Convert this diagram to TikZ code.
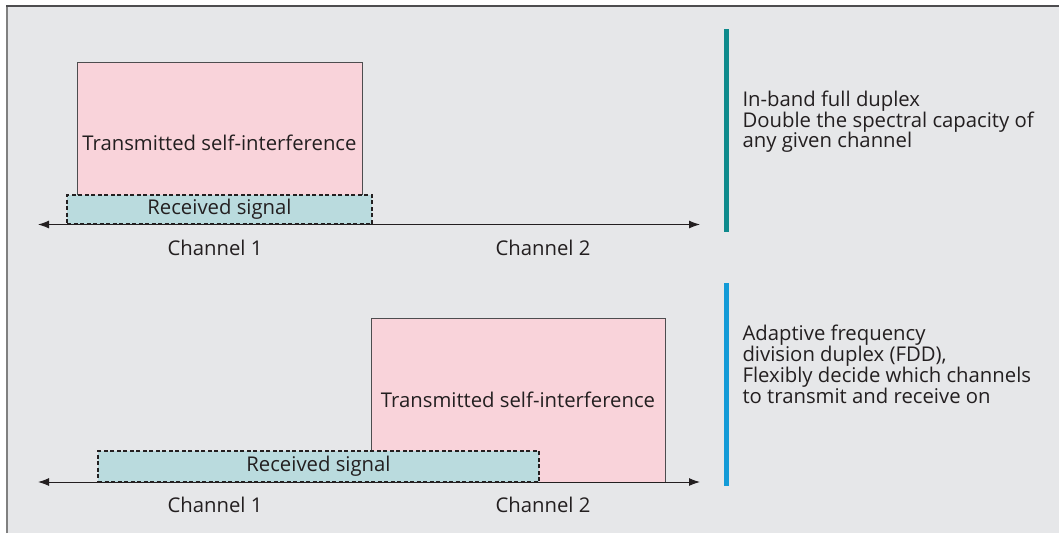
\documentclass[tikz,border=0pt]{standalone}
\usepackage{fontspec}
\setmainfont{Open Sans}
\usetikzlibrary{arrows.meta}
\definecolor{panelbg}{HTML}{E6E7E9}
\definecolor{txpink}{HTML}{F9D3DA}
\definecolor{rxteal}{HTML}{BADBDE}
\definecolor{inkgray}{HTML}{231F20}
\definecolor{edgegray}{HTML}{4D4D4F}
\definecolor{barteal}{HTML}{0E8A8C}
\definecolor{barblue}{HTML}{139BD7}

\begin{document}
\begin{tikzpicture}[x=1pt, y=-1pt, >={Latex[length=11pt, width=8pt]},
	font=\fontsize{20.3}{20.5}\selectfont, text=inkgray,
	txbox/.style={draw=edgegray, fill=txpink, line width=0.9pt, inner sep=0pt},
	rxbox/.style={draw=inkgray, fill=rxteal, line width=2pt, dash pattern=on 4pt off 2.5pt, inner sep=0pt},
	axis/.style={draw=inkgray, line width=1pt, <->},
	bar/.style={line width=5pt}]
	\useasboundingbox (0, 0) rectangle (1059, 533);
	% panel
	\fill[panelbg] (7, 6) rectangle (1059, 533);
	\draw[gray, line width=1.2pt] (7, 533) -- (7, 6);
	\draw[edgegray, line width=1.5pt] (6.4, 6) -- (1059, 6);

	% in-band full duplex
	\node[txbox, minimum width=285pt, minimum height=162pt] (txtop) at (219.5, 143) {Transmitted self-interference};
	\node[rxbox, minimum width=305pt, minimum height=29pt] (rxtop) at (219.5, 209.5) {Received signal};
	\coordinate (axtopl) at (38, 224.5);
	\coordinate (axtopr) at (700, 224.5);
	\draw[axis] (axtopl) -- (axtopr);
	\node (chtopa) at (215, 248) {Channel 1};
	\node (chtopb) at (543, 248) {Channel 2};
	\draw[bar, barteal] (726, 29) -- (726, 232);
	\node[anchor=west, align=left] (desctop) at (739, 122) {In-band full duplex\\Double the spectral capacity of\\any given channel};

	% adaptive FDD
	\node[txbox, minimum width=294pt, minimum height=164pt] (txbot) at (518, 400) {Transmitted self-interference};
	\node[rxbox, minimum width=441pt, minimum height=31pt] (rxbot) at (318.5, 466.5) {Received signal};
	\coordinate (axbotl) at (38, 482);
	\coordinate (axbotr) at (700, 482);
	\draw[axis] (axbotl) -- (axbotr);
	\node (chbota) at (215, 505) {Channel 1};
	\node (chbotb) at (543, 505) {Channel 2};
	\draw[bar, barblue] (726, 283) -- (726, 486);
	\node[anchor=west, align=left, font=\fontsize{20.3}{21}\selectfont] (descbot) at (739, 364.5) {Adaptive frequency\\division duplex (FDD),\\Flexibly decide which channels\\to transmit and receive on};
\end{tikzpicture}
\end{document}
